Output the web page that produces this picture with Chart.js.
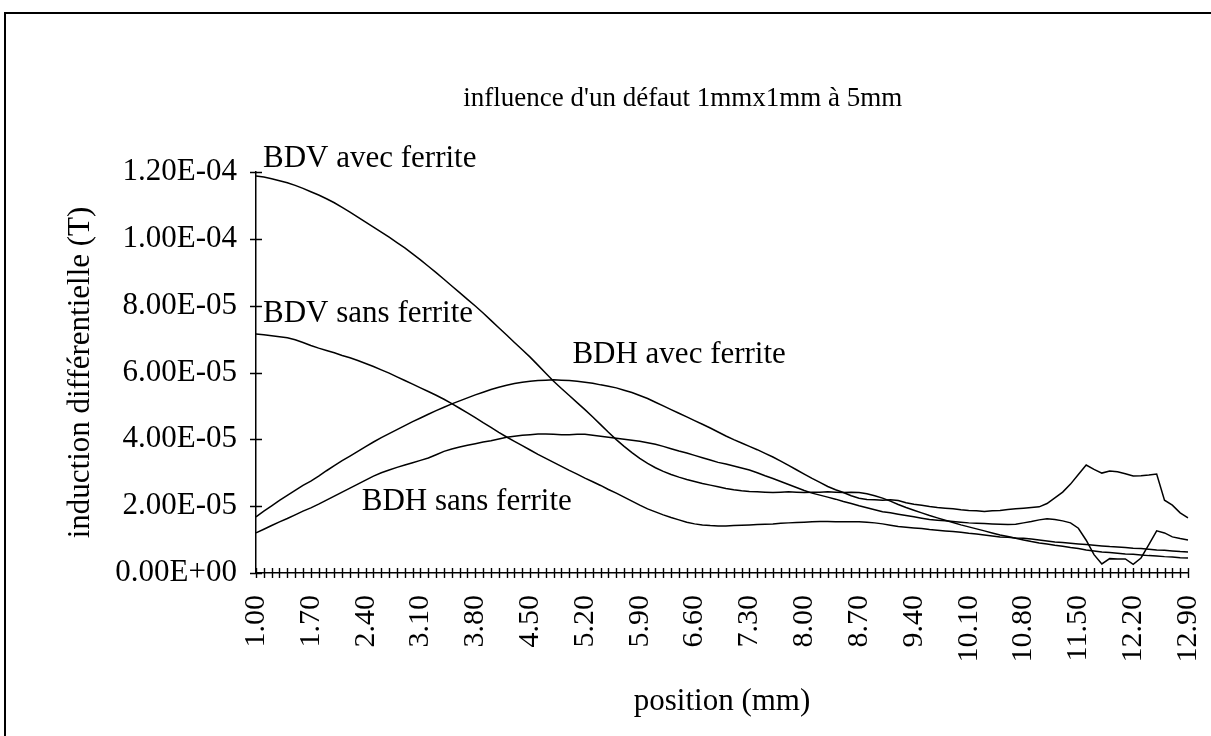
<!DOCTYPE html>
<html>
<head>
<meta charset="utf-8">
<title>influence d'un défaut 1mmx1mm à 5mm</title>
<script src="https://cdn.jsdelivr.net/npm/chart.js@4"></script>
<style>
  html, body { margin: 0; padding: 0; background: #fff; }
  #wrap { width: 1211px; height: 736px; position: relative; }
  canvas { display: block; }
</style>
</head>
<body>
<div id="wrap"><canvas id="c" width="1211" height="736"></canvas></div>
<script>
// Position along the scan (mm)
const positions = [
  '1.00','1.10','1.20','1.30','1.40','1.50','1.60','1.70','1.80','1.90',
  '2.00','2.10','2.20','2.30','2.40','2.50','2.60','2.70','2.80','2.90',
  '3.00','3.10','3.20','3.30','3.40','3.50','3.60','3.70','3.80','3.90',
  '4.00','4.10','4.20','4.30','4.40','4.50','4.60','4.70','4.80','4.90',
  '5.00','5.10','5.20','5.30','5.40','5.50','5.60','5.70','5.80','5.90',
  '6.00','6.10','6.20','6.30','6.40','6.50','6.60','6.70','6.80','6.90',
  '7.00','7.10','7.20','7.30','7.40','7.50','7.60','7.70','7.80','7.90',
  '8.00','8.10','8.20','8.30','8.40','8.50','8.60','8.70','8.80','8.90',
  '9.00','9.10','9.20','9.30','9.40','9.50','9.60','9.70','9.80','9.90',
  '10.00','10.10','10.20','10.30','10.40','10.50','10.60','10.70','10.80','10.90',
  '11.00','11.10','11.20','11.30','11.40','11.50','11.60','11.70','11.80','11.90',
  '12.00','12.10','12.20','12.30','12.40','12.50','12.60','12.70','12.80','12.90'
];

// Differential induction, in units of 1e-5 T
const bdvAvec = [
  11.88,11.85,11.80,11.74,11.68,11.60,11.51,11.41,11.31,11.20,
  11.08,10.94,10.80,10.65,10.50,10.35,10.20,10.05,9.89,9.73,
  9.55,9.37,9.18,8.99,8.79,8.59,8.39,8.19,7.99,7.78,
  7.56,7.34,7.12,6.90,6.68,6.46,6.22,5.98,5.74,5.52,
  5.31,5.10,4.89,4.67,4.44,4.21,3.99,3.79,3.60,3.43,
  3.28,3.15,3.04,2.95,2.87,2.80,2.74,2.68,2.63,2.58,
  2.53,2.49,2.46,2.44,2.43,2.42,2.41,2.42,2.43,2.42,
  2.41,2.42,2.42,2.43,2.42,2.41,2.42,2.41,2.37,2.31,
  2.24,2.15,2.05,1.96,1.88,1.80,1.72,1.65,1.58,1.51,
  1.44,1.38,1.32,1.26,1.20,1.14,1.09,1.04,0.99,0.94,
  0.90,0.87,0.83,0.80,0.76,0.73,0.69,0.66,0.63,0.61,
  0.59,0.57,0.56,0.54,0.52,0.51,0.49,0.48,0.46,0.45
];
const bdvSans = [
  7.15,7.13,7.10,7.07,7.04,6.98,6.90,6.81,6.73,6.66,
  6.59,6.51,6.44,6.36,6.27,6.18,6.08,5.98,5.87,5.76,
  5.65,5.54,5.43,5.32,5.20,5.07,4.93,4.79,4.65,4.50,
  4.36,4.21,4.07,3.94,3.81,3.68,3.55,3.43,3.31,3.19,
  3.07,2.96,2.84,2.73,2.62,2.50,2.39,2.27,2.15,2.03,
  1.92,1.83,1.74,1.66,1.59,1.52,1.47,1.44,1.42,1.41,
  1.41,1.42,1.43,1.44,1.45,1.46,1.47,1.49,1.50,1.51,
  1.52,1.53,1.54,1.54,1.53,1.53,1.53,1.53,1.52,1.50,
  1.47,1.43,1.39,1.37,1.35,1.33,1.30,1.28,1.26,1.24,
  1.22,1.19,1.17,1.14,1.11,1.08,1.07,1.05,1.04,1.02,
  0.99,0.96,0.93,0.91,0.89,0.87,0.85,0.83,0.81,0.79,
  0.78,0.76,0.74,0.73,0.71,0.69,0.68,0.66,0.64,0.63
];
const bdhAvec = [
  1.68,1.85,2.01,2.17,2.32,2.47,2.62,2.75,2.90,3.06,
  3.21,3.36,3.50,3.64,3.78,3.92,4.05,4.17,4.29,4.41,
  4.53,4.64,4.75,4.86,4.96,5.06,5.15,5.24,5.33,5.41,
  5.49,5.56,5.62,5.67,5.71,5.74,5.76,5.77,5.78,5.77,
  5.76,5.74,5.71,5.68,5.63,5.59,5.54,5.47,5.40,5.31,
  5.22,5.11,5.00,4.89,4.78,4.67,4.56,4.45,4.34,4.22,
  4.10,3.99,3.89,3.79,3.69,3.58,3.47,3.35,3.22,3.09,
  2.96,2.83,2.71,2.59,2.49,2.41,2.31,2.24,2.20,2.19,
  2.18,2.19,2.17,2.10,2.06,2.03,1.99,1.96,1.94,1.92,
  1.89,1.87,1.86,1.84,1.86,1.87,1.90,1.92,1.94,1.96,
  1.98,2.08,2.25,2.42,2.66,2.95,3.23,3.10,2.99,3.05,
  3.03,2.97,2.90,2.91,2.93,2.96,2.18,2.03,1.80,1.65
];
const bdhSans = [
  1.20,1.31,1.42,1.53,1.63,1.74,1.85,1.95,2.06,2.18,
  2.30,2.42,2.54,2.66,2.78,2.90,3.00,3.08,3.16,3.23,
  3.30,3.37,3.44,3.54,3.64,3.71,3.77,3.82,3.87,3.92,
  3.96,4.01,4.06,4.09,4.12,4.14,4.16,4.16,4.15,4.14,
  4.14,4.15,4.15,4.12,4.09,4.06,4.03,4.00,3.97,3.94,
  3.90,3.85,3.79,3.72,3.65,3.59,3.52,3.45,3.38,3.31,
  3.26,3.20,3.14,3.08,3.00,2.91,2.83,2.74,2.65,2.56,
  2.47,2.39,2.33,2.27,2.21,2.14,2.08,2.01,1.95,1.89,
  1.83,1.80,1.76,1.72,1.68,1.64,1.60,1.58,1.56,1.54,
  1.52,1.50,1.49,1.48,1.47,1.46,1.45,1.46,1.50,1.54,
  1.59,1.62,1.60,1.56,1.50,1.34,0.98,0.55,0.27,0.43,
  0.42,0.42,0.26,0.45,0.85,1.26,1.20,1.08,1.03,0.99
];

// Value-axis ticks (units of 1e-5 T) and the category step between labels
const yTicks = [0, 2, 4, 6, 8, 10, 12];
const labelEvery = 7;

const seriesNames = ['BDV avec ferrite', 'BDV sans ferrite', 'BDH avec ferrite', 'BDH sans ferrite'];
const titleText = "influence d'un défaut 1mmx1mm à 5mm";
const yTitle = 'induction différentielle (T)';
const xTitle = 'position (mm)';

const SERIF = '"Liberation Serif", "Times New Roman", serif';

// Format a value in 1e-5 T as Excel-style scientific text, e.g. 1.20E-04
function sci(v) {
  const t = v * 1e-5;
  if (Math.abs(t) < 1e-15) return '0.00E+00';
  let e = Math.floor(Math.log10(Math.abs(t)) + 1e-9);
  let ms = (t / Math.pow(10, e)).toFixed(2);
  if (ms === '10.00') { e += 1; ms = '1.00'; }
  const sign = e < 0 ? '-' : '+';
  return ms + 'E' + sign + String(Math.abs(e)).padStart(2, '0');
}

// Series captions placed in data coordinates (category index, value)
const captions = [
  { text: seriesNames[0], i: 0.9,  v: 12.15 },
  { text: seriesNames[1], i: 0.9,  v: 7.51 },
  { text: seriesNames[2], i: 40.4, v: 6.28 },
  { text: seriesNames[3], i: 13.5, v: 1.89 }
];

// Tick marks that cross the axes, one per category and one per value tick
const crossTicks = {
  id: 'crossTicks',
  afterDraw(chart) {
    const { ctx } = chart;
    const x = chart.scales.x, y = chart.scales.y;
    ctx.save();
    ctx.strokeStyle = '#000';
    ctx.lineWidth = 1.4;
    ctx.beginPath();
    for (let i = 0; i < x.ticks.length; i++) {
      const px = Math.round(x.getPixelForTick(i)) + 0.5;
      ctx.moveTo(px, y.bottom - 5);
      ctx.lineTo(px, y.bottom + 5);
    }
    for (let i = 0; i < y.ticks.length; i++) {
      const py = Math.round(y.getPixelForTick(i)) + 0.5;
      ctx.moveTo(x.left - 6, py);
      ctx.lineTo(x.left + 6, py);
    }
    ctx.stroke();
    ctx.restore();
  }
};

// Chart title, series captions and the outer frame (left and top edges)
const decorations = {
  id: 'decorations',
  afterDraw(chart) {
    const { ctx } = chart;
    const x = chart.scales.x, y = chart.scales.y;
    ctx.save();
    ctx.fillStyle = '#000';
    ctx.textBaseline = 'alphabetic';
    ctx.font = '31px ' + SERIF;
    ctx.textAlign = 'left';
    captions.forEach(c => {
      ctx.fillText(c.text, x.getPixelForValue(c.i), y.getPixelForValue(c.v));
    });
    ctx.font = '27px ' + SERIF;
    ctx.textAlign = 'center';
    ctx.fillText(titleText, x.getPixelForValue(54.5), y.getPixelForValue(13.97));

    ctx.strokeStyle = '#000';
    ctx.lineWidth = 2;
    ctx.beginPath();
    ctx.moveTo(5, 736);
    ctx.lineTo(5, 13);
    ctx.lineTo(1211, 13);
    ctx.stroke();
    ctx.restore();
  }
};

const lineStyle = {
  borderColor: '#000',
  borderWidth: 1.5,
  pointRadius: 0,
  pointHoverRadius: 0,
  tension: 0,
  fill: false
};

new Chart(document.getElementById('c'), {
  type: 'line',
  data: {
    labels: positions,
    datasets: [
      Object.assign({ label: seriesNames[0], data: bdvAvec }, lineStyle),
      Object.assign({ label: seriesNames[1], data: bdvSans }, lineStyle),
      Object.assign({ label: seriesNames[2], data: bdhAvec }, lineStyle),
      Object.assign({ label: seriesNames[3], data: bdhSans }, lineStyle)
    ]
  },
  options: {
    responsive: false,
    animation: false,
    devicePixelRatio: 1,
    layout: { padding: { left: 0, right: 23, top: 172, bottom: 0 } },
    plugins: {
      legend: { display: false },
      title: { display: false },
      tooltip: { enabled: false }
    },
    scales: {
      x: {
        type: 'category',
        offset: false,
        grid: { display: false, drawTicks: false },
        border: { display: true, color: '#000', width: 1.5 },
        ticks: {
          autoSkip: false,
          maxRotation: 90,
          minRotation: 90,
          padding: 22,
          color: '#000',
          font: { family: SERIF, size: 30 },
          callback: (v, i) => (i % labelEvery === 0 ? positions[i] : '')
        },
        title: {
          display: true,
          text: xTitle,
          color: '#000',
          font: { family: SERIF, size: 31 },
          padding: { top: 0, bottom: 16 }
        },
        afterFit: s => { s.height = 163; s.paddingLeft = 0; s.paddingRight = 0; }
      },
      y: {
        min: 0,
        max: 12,
        grid: { display: false, drawTicks: false },
        border: { display: true, color: '#000', width: 1.5 },
        afterBuildTicks: s => { s.ticks = yTicks.map(v => ({ value: v })); },
        ticks: {
          padding: 19,
          color: '#000',
          font: { family: SERIF, size: 31 },
          callback: v => sci(v)
        },
        title: {
          display: true,
          text: yTitle,
          color: '#000',
          font: { family: SERIF, size: 31 },
          padding: { top: 62, bottom: 0 }
        },
        afterFit: s => { s.width = 256; s.paddingTop = 0; s.paddingBottom = 0; }
      }
    }
  },
  plugins: [crossTicks, decorations]
});
</script>
</body>
</html>
